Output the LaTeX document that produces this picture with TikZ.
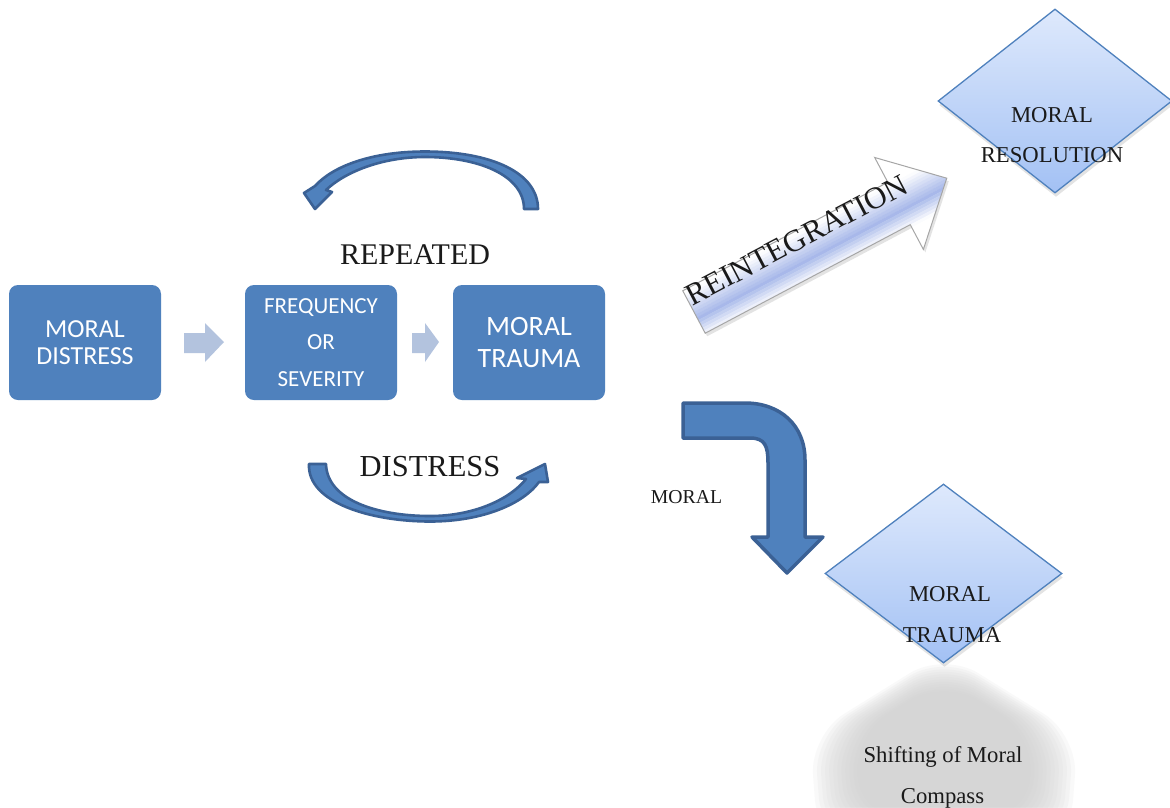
\documentclass[tikz,border=0pt]{standalone}
\usepackage{fontspec}
\usetikzlibrary{shapes.geometric,shadows}
\newfontfamily\bxfont{Carlito}
\newfontfamily\srfont{Liberation Serif}
\definecolor{boxblue}{HTML}{4F81BD}
\definecolor{darkblue}{HTML}{3B6195}
\definecolor{lightarrow}{HTML}{B3C3DE}
\definecolor{diatop}{HTML}{DEE9FC}
\definecolor{diabot}{HTML}{A3C1F4}
\definecolor{rblue}{HTML}{98ACE6}
\definecolor{blobgray}{HTML}{CFCFCF}
\definecolor{txt}{HTML}{1A1A1A}
\tikzset{
  bluebox/.style={rectangle, rounded corners=9pt, fill=boxblue, text=white,
    minimum width=152pt, minimum height=115pt, align=center, inner sep=0pt},
  smallarrow/.style={fill=lightarrow},
  bandarrow/.style={fill=boxblue, draw=darkblue, line width=2.6pt, line join=round},
  moraldia/.style={diamond, draw=boxblue, line width=1.3pt, top color=diatop,
    bottom color=diabot, inner sep=0pt,
    drop shadow={shadow xshift=1pt, shadow yshift=-4pt, opacity=.22, fill=gray}},
  sertext/.style={text=txt, inner sep=0pt, anchor=base},
}
\begin{document}
\begin{tikzpicture}[x=1pt,y=-1pt]
\useasboundingbox (0,0) rectangle (1170,807);
\fill[white] (0,0) rectangle (1170,807);

% boxes
\node[bluebox, font=\bxfont\fontsize{26}{27.3}\selectfont] (md) at (85,342.5) {MORAL\\DISTRESS};
\node[bluebox, font=\bxfont\fontsize{23}{36.5}\selectfont] (fs) at (321,342.5) {FREQUENCY\\OR\\SEVERITY};
\node[bluebox, font=\bxfont\fontsize{28}{32}\selectfont] (mt) at (529,342.5) {MORAL\\TRAUMA};

% small arrows between boxes
\fill[smallarrow] (184,333) -- (205,333) -- (205,323) -- (224,342) -- (205,362) -- (205,353) -- (184,353) -- cycle;
\fill[smallarrow] (412,333) -- (425,333) -- (425,323) -- (439,342) -- (425,362) -- (425,353) -- (412,353) -- cycle;

% top curved arrow
\draw[bandarrow] (538,209) .. controls (538,172) and (490,151.5) .. (425,151.5)
  .. controls (372,151.5) and (333,166) .. (315,186) -- (304,193) -- (315,209) -- (332,192) -- (326,190)
  .. controls (345,172) and (382,157) .. (425,157) .. controls (478,157) and (524,175) .. (524,209) -- cycle;

% bottom curved arrow
\draw[bandarrow] (309,464) .. controls (307,503) and (372,521.5) .. (430,521.5)
  .. controls (484,521.5) and (524,503) .. (539,482) -- (548,482) -- (545,464) -- (517,478) -- (526,479)
  .. controls (511,498) and (476,516) .. (430,516) .. controls (377,516) and (327,500) .. (326,464) -- cycle;

\node[sertext, font=\srfont\fontsize{30}{34}\selectfont] (rep) at (415,264) {REPEATED};
\node[sertext, font=\srfont\fontsize{30.5}{34}\selectfont] (dis) at (430,476) {DISTRESS};

% reintegration arrow shadow
\begin{scope}[shift={(696,315)}, rotate=27.9]
  \fill[gray, opacity=.22] (0,-24) -- (232,-24) -- (232,-52) -- (286,0) -- (232,52) -- (232,24) -- (0,24) -- cycle;
\end{scope}
\begin{scope}[shift={(694,312)}, rotate=27.9]
  \begin{scope}
    \clip (0,-24) -- (232,-24) -- (232,-52) -- (286,0) -- (232,52) -- (232,24) -- (0,24) -- cycle;
    \fill[white] (-5,-60) rectangle (295,60);
    \foreach \t in {-54,-51,...,54}{
      \pgfmathsetmacro\p{max(0,85-(\t<6 ? 3.0 : 4.5)*abs(\t-6))}
      \fill[rblue!\p!white] (-5,\t) rectangle (295,\t+3.3);
    }
  \end{scope}
  \draw[gray!70, line width=1pt, line join=miter] (0,-24) -- (232,-24) -- (232,-52) -- (286,0) -- (232,52) -- (232,24) -- (0,24) -- cycle;
\end{scope}
\node[sertext, font=\srfont\fontsize{31}{34}\selectfont, rotate=27.7] (rein) at (801,249) {REINTEGRATION};

% top diamond
\node[moraldia, minimum width=234pt, minimum height=184pt, aspect=1.27] (resdia) at (1055,101) {};
\node[sertext, font=\srfont\fontsize{22.7}{27}\selectfont] (resA) at (1052,122) {MORAL};
\node[sertext, font=\srfont\fontsize{22.7}{27}\selectfont] (resB) at (1052,162) {RESOLUTION};

% blurred grey blob
\foreach \k in {0,...,11}{
  \fill[blobgray, opacity=.12, rounded corners=40pt]
    (944,{652+2.5*\k}) -- ({1078-4*\k},{735}) -- ({1070-4*\k},{840-2*\k}) -- ({818+4*\k},{840-2*\k}) -- ({810+4*\k},735) -- cycle;
}

% bent arrow
\draw[fill=boxblue, draw=darkblue, line width=3.5pt, line join=round]
  (683,403) -- (745,403) .. controls (780,403) and (805,425) .. (805,460)
  -- (805,537) -- (823,537) -- (787,573) -- (752,537) -- (768,537) -- (768,463)
  .. controls (768,446) and (765,438) .. (750,438) -- (683,438) -- cycle;
\node[sertext, font=\srfont\fontsize{19.7}{24}\selectfont] (mor) at (686.5,503) {MORAL};

% bottom diamond
\node[moraldia, minimum width=237pt, minimum height=179pt, aspect=1.32] (trdia) at (943.5,573.5) {};
\node[sertext, font=\srfont\fontsize{22.7}{27}\selectfont] (trA) at (950,601) {MORAL};
\node[sertext, font=\srfont\fontsize{22.7}{27}\selectfont] (trB) at (952,642) {TRAUMA};

\node[sertext, font=\srfont\fontsize{22.7}{27}\selectfont] (shA) at (943,762.5) {Shifting of Moral};
\node[sertext, font=\srfont\fontsize{22.7}{27}\selectfont] (shB) at (942.5,803) {Compass};
\end{tikzpicture}
\end{document}
